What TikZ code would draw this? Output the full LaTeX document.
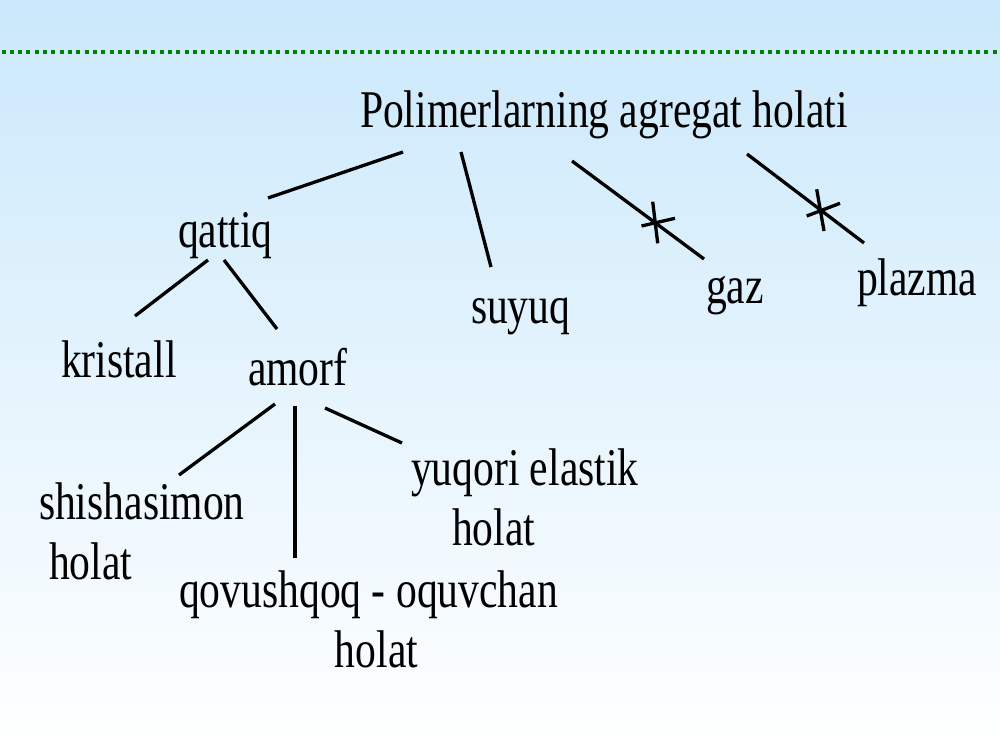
\documentclass[tikz,border=0pt]{standalone}
\usepackage{fontspec}
\setmainfont{Liberation Serif}[FakeStretch=0.785]
\definecolor{bgtop}{RGB}{202,232,251}
\definecolor{dotgreen}{RGB}{0,128,0}
\begin{document}
\begin{tikzpicture}[x=1pt,y=1pt,
  lbl/.style={inner sep=0pt, outer sep=0pt, font=\fontsize{53}{60}\selectfont, anchor=base west},
  conn/.style={line width=3.3pt, line cap=butt},
  dotline/.style={dotgreen, line width=4pt, dash pattern=on 4pt off 4.33pt}]
\useasboundingbox (0,0) rectangle (1000,-750);
\shade[top color=bgtop, bottom color=white] (0,0) rectangle (1000,-750);
\draw[dotline] (1.5,-51.5) -- (1000,-51.5);

% nodes (multi-line nodes are placed at the baseline of their last line)
\node[lbl] (title) at (360,-127) {Polimerlarning agregat holati};
\node[lbl] (qattiq) at (178,-247) {qattiq};
\node[lbl] (suyuq) at (471,-323) {suyuq};
\node[lbl] (gaz) at (706,-303) {gaz};
\node[lbl] (plazma) at (857,-295) {plazma};
\node[lbl] (kristall) at (61,-377) {kristall};
\node[lbl] (amorf) at (248,-385) {amorf};
\node[lbl, align=left] (shisha) at (39,-579) {shishasimon\\\hspace*{10pt}holat};
\node[lbl, align=left] (yuqori) at (411,-545) {yuqori elastik\\\hspace*{41pt}holat};
\node[lbl, align=center] (qovush) at (179,-667) {qovushqoq - oquvchan\\\hspace*{16pt}holat};

% connector ends
\coordinate (tq) at (403,-152);  \coordinate (qt) at (268,-198);
\coordinate (ts) at (461,-152);  \coordinate (st) at (491,-267);
\coordinate (tg) at (572,-161);  \coordinate (gt) at (704,-259);
\coordinate (tp) at (747,-154);  \coordinate (pt) at (864,-243);
\coordinate (qk) at (208,-260);  \coordinate (kq) at (135,-316);
\coordinate (qa) at (224,-260);  \coordinate (aq) at (277,-329);
\coordinate (ash) at (275,-404); \coordinate (sha) at (179,-475);
\coordinate (aqv) at (295,-406); \coordinate (qva) at (295,-558);
\coordinate (ay) at (325,-408);  \coordinate (ya) at (402,-443);
\coordinate (gx) at (655,-222);
\coordinate (px) at (820,-210);

\draw[conn] (tq) -- (qt);
\draw[conn] (ts) -- (st);
\draw[conn] (tg) -- (gt);
\draw[conn] (tp) -- (pt);
\draw[conn] (qk) -- (kq);
\draw[conn] (qa) -- (aq);
\draw[conn] (ash) -- (sha);
\draw[conn] (aqv) -- (qva);
\draw[conn] (ay) -- (ya);

% crossing ticks
\draw[conn] ([shift={(-13.5,-4)}]gx) -- ([shift={(20,3.7)}]gx);
\draw[conn] ([shift={(-2.3,20.3)}]gx) -- ([shift={(2.7,-21.3)}]gx);
\draw[conn] ([shift={(-13.3,-6)}]px) -- ([shift={(20,6.7)}]px);
\draw[conn] ([shift={(-3.3,20.7)}]px) -- ([shift={(4,-21)}]px);
\end{tikzpicture}
\end{document}
